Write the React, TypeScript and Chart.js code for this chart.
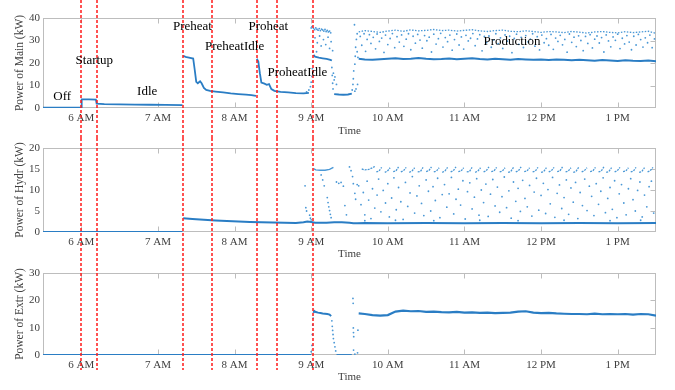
import React, { useEffect, useRef } from 'react';
import { Chart, registerables } from 'chart.js';

Chart.register(...registerables);

type Pt = [number, number];

// ---------- axes / annotations ----------
const X_MIN = 5.5;
const X_MAX = 13.5;
const TICK_HOURS = [6, 7, 8, 9, 10, 11, 12, 13];
const TICK_LABELS = ['6 AM', '7 AM', '8 AM', '9 AM', '10 AM', '11 AM', '12 PM', '1 PM'];
const MAIN_YTICKS = [0, 10, 20, 30, 40];
const HYDR_YTICKS = [0, 5, 10, 15, 20];
const EXTR_YTICKS = [0, 10, 20, 30];
const PHASE_T = [6.0, 6.2, 7.33, 7.71, 8.29, 8.55, 9.03];
const PHASE_LABELS = ['Off', 'Startup', 'Idle', 'Preheat', 'PreheatIdle', 'Proheat', 'ProheatIdle', 'Production'];
const PHASE_LABEL_T = [5.75, 6.17, 6.86, 7.45, 8.0, 8.44, 8.82, 11.62];
const PHASE_LABEL_V = [5.2, 21.0, 7.2, 36.4, 27.2, 36.1, 15.7, 29.5];

// ---------- shared production time grid ----------
const PROD_T = [9.62, 9.7, 9.8, 9.9, 10.0, 10.1, 10.2, 10.3, 10.4, 10.5, 10.6, 10.7, 10.8, 10.9, 11.0, 11.1, 11.2, 11.3, 11.4, 11.5, 11.6, 11.7, 11.8, 11.9, 12.0, 12.1, 12.2, 12.3, 12.4, 12.5, 12.6, 12.7, 12.8, 12.9, 13.0, 13.1, 13.2, 13.3, 13.4, 13.5];

// ---------- Main ----------
const MAIN_IDLE: Pt[] = [[5.5, 0.2], [5.75, 0.2], [6.0, 0.25], [6.005, 3.8], [6.1, 3.8], [6.19, 3.7], [6.2, 1.9], [6.3, 1.7], [6.5, 1.6], [6.7, 1.5], [6.9, 1.45], [7.1, 1.35], [7.32, 1.3]];
const MAIN_PREHEAT: Pt[] = [[7.33, 23.2], [7.36, 22.7], [7.42, 22.3], [7.46, 22.0], [7.48, 17.0], [7.5, 11.6], [7.52, 11.0], [7.55, 11.9], [7.57, 11.0], [7.6, 8.9], [7.63, 8.0], [7.68, 7.6], [7.75, 7.3], [7.85, 6.9], [7.95, 6.5], [8.05, 6.2], [8.15, 5.9], [8.22, 5.7], [8.28, 5.4]];
const MAIN_PROHEAT: Pt[] = [[8.29, 21.9], [8.31, 20.6], [8.33, 15.5], [8.35, 11.3], [8.39, 10.8], [8.42, 10.3], [8.45, 10.6], [8.48, 8.4], [8.52, 7.6], [8.6, 7.2], [8.7, 6.9], [8.8, 6.6], [8.9, 6.5], [8.97, 6.7]];
const MAIN_P1_LOW: Pt[] = [[9.03, 23.6], [9.05, 22.8], [9.1, 22.4], [9.15, 22.1], [9.2, 21.8], [9.25, 21.4], [9.27, 21.1]];
const MAIN_DIP: Pt[] = [[9.3, 6.2], [9.36, 6.0], [9.42, 5.9], [9.48, 6.0], [9.53, 6.4]];
const MAIN_LOW = [21.9, 21.6, 21.5, 21.7, 21.9, 22.1, 21.8, 21.9, 22.2, 21.9, 21.7, 21.8, 22.0, 21.7, 21.9, 22.1, 21.8, 21.6, 21.9, 21.7, 21.5, 21.8, 21.6, 21.4, 21.5, 21.3, 21.6, 21.4, 21.2, 21.4, 21.2, 21.0, 21.3, 21.1, 20.9, 21.2, 21.0, 20.9, 21.1, 20.8];
const MAIN_HIGH = [33.8, 34.4, 34.0, 33.6, 34.2, 34.6, 34.1, 34.7, 34.3, 34.5, 34.9, 34.4, 34.6, 34.2, 34.5, 34.8, 34.3, 34.0, 34.4, 34.6, 34.1, 33.9, 34.3, 34.0, 33.6, 34.0, 33.8, 33.5, 34.0, 33.7, 33.3, 33.8, 34.0, 33.6, 33.4, 33.9, 33.5, 33.8, 34.1, 33.2];
const MAIN_SCATTER: Pt[] = [
  [8.94, 7.2], [8.97, 8.0], [8.99, 9.5], [9.0, 11.5], [9.01, 14.0], [9.015, 17.5], [9.02, 20.5], [9.025, 25.0], [9.0, 35.6], [9.01, 36.2],
  [9.03, 35.4], [9.045, 34.8], [9.06, 35.6], [9.075, 35.0], [9.09, 34.6], [9.105, 35.3], [9.12, 34.4], [9.135, 35.1], [9.15, 34.7], [9.165, 34.2], [9.18, 34.9], [9.195, 34.0], [9.21, 34.5], [9.225, 33.8], [9.24, 34.2], [9.255, 33.4],
  [9.05, 31.2], [9.08, 29.0], [9.11, 32.0], [9.13, 27.6], [9.16, 30.4], [9.19, 28.2], [9.22, 31.5], [9.24, 26.5], [9.26, 29.5], [9.07, 25.0],
  [9.27, 18.0], [9.275, 14.5], [9.28, 11.0], [9.285, 8.5], [9.29, 15.5], [9.3, 12.5], [9.31, 13.8], [9.33, 10.5], [9.28, 25.5],
  [9.535, 8.0], [9.545, 10.5], [9.55, 13.0], [9.555, 16.5], [9.565, 37.0], [9.57, 19.5], [9.575, 23.0], [9.58, 27.0], [9.59, 30.5], [9.6, 33.0], [9.6, 25.0], [9.57, 7.5], [9.585, 8.5], [9.605, 10.5], [9.61, 22.5],
  [9.64, 31.8], [9.66, 27.9], [9.69, 33.0], [9.71, 25.2], [9.73, 30.5], [9.76, 32.6], [9.78, 28.7], [9.81, 31.4], [9.84, 26.3], [9.86, 32.9], [9.89, 29.6], [9.92, 31.1], [9.95, 24.7], [9.97, 32.4], [10.0, 28.2], [10.03, 30.9], [10.06, 33.1], [10.09, 26.8], [10.12, 31.7], [10.15, 29.3], [10.18, 32.5], [10.21, 27.4], [10.24, 30.6], [10.27, 33.0], [10.3, 25.9], [10.33, 31.9], [10.36, 28.8], [10.39, 32.7], [10.42, 30.2], [10.45, 26.6], [10.48, 32.2], [10.51, 29.9], [10.54, 31.5], [10.57, 24.9], [10.6, 32.8], [10.63, 28.4], [10.66, 30.8], [10.69, 33.2], [10.72, 27.1], [10.75, 31.3], [10.78, 29.5], [10.81, 32.4], [10.84, 25.7], [10.87, 30.4], [10.9, 32.9], [10.93, 28.0], [10.96, 31.6], [10.99, 26.2],
  [11.02, 32.3], [11.05, 29.8], [11.08, 31.0], [11.11, 33.1], [11.14, 27.7], [11.17, 30.7], [11.2, 32.6], [11.23, 25.4], [11.26, 31.8], [11.29, 29.1], [11.32, 32.0], [11.35, 27.0], [11.38, 30.3], [11.41, 33.0], [11.44, 28.6], [11.47, 31.2], [11.5, 26.5], [11.53, 32.5], [11.56, 29.7], [11.59, 31.9], [11.62, 24.6], [11.65, 30.9], [11.68, 32.8], [11.71, 28.3], [11.74, 31.4], [11.77, 26.9], [11.8, 32.2], [11.83, 29.4], [11.86, 30.6], [11.89, 33.0], [11.92, 27.5], [11.95, 31.7], [11.98, 25.8],
  [12.01, 32.4], [12.04, 29.0], [12.07, 30.8], [12.1, 27.9], [12.13, 32.7], [12.16, 26.1], [12.19, 31.1], [12.22, 29.6], [12.25, 32.3], [12.28, 28.1], [12.31, 30.5], [12.34, 24.8], [12.37, 32.9], [12.4, 29.2], [12.43, 31.5], [12.46, 27.3], [12.49, 32.1], [12.52, 30.0], [12.55, 25.5], [12.58, 31.8], [12.61, 28.7], [12.64, 32.6], [12.67, 26.7], [12.7, 30.6], [12.73, 32.0], [12.76, 28.9], [12.79, 31.3], [12.82, 24.9], [12.85, 32.5], [12.88, 29.8], [12.91, 27.2], [12.94, 31.6], [12.97, 30.1],
  [13.0, 32.8], [13.03, 26.4], [13.06, 31.0], [13.09, 28.5], [13.12, 32.2], [13.15, 29.3], [13.18, 25.9], [13.21, 31.9], [13.24, 28.0], [13.27, 32.7], [13.3, 30.4], [13.33, 27.1], [13.36, 31.2], [13.39, 29.0], [13.42, 32.4], [13.45, 26.8], [13.48, 30.7],
];

// ---------- Hydr ----------
const HYDR_OFF: Pt[] = [[5.5, 0], [7.32, 0]];
const HYDR_BASE: Pt[] = [[7.33, 3.3], [7.45, 3.1], [7.6, 2.9], [7.75, 2.75], [7.9, 2.6], [8.05, 2.5], [8.2, 2.4], [8.35, 2.35], [8.5, 2.25], [8.65, 2.2], [8.8, 2.15], [8.9, 2.3], [8.95, 2.5], [9.0, 2.4], [9.05, 2.2], [9.2, 2.2], [9.3, 2.3], [9.4, 2.3], [9.5, 2.2], [9.55, 2.1], [9.6, 2.1], [9.7, 2.15], [10.0, 2.1], [10.5, 2.15], [11.0, 2.1], [11.5, 2.15], [12.0, 2.1], [12.5, 2.15], [13.0, 2.1], [13.5, 2.15]];
const HYDR_UPPER1: Pt[] = [[9.03, 15.1], [9.06, 14.8], [9.12, 14.7], [9.18, 14.7], [9.24, 14.9], [9.29, 15.4]];
const HYDR_HOOKS: Pt[] = [
  [9.66, 15.0], [9.7, 14.8], [9.75, 14.9], [9.8, 15.3], [9.83, 15.6],
  [9.85, 14.3], [9.885, 14.5], [9.92, 15.4], [9.96, 14.2], [9.995, 14.5], [10.03, 15.3], [10.07, 14.4], [10.105, 14.5], [10.14, 15.5],
  [10.17, 14.3], [10.205, 14.6], [10.24, 15.4], [10.28, 14.2], [10.315, 14.5], [10.35, 15.3], [10.39, 14.3], [10.425, 14.4], [10.46, 15.4],
  [10.5, 14.4], [10.535, 14.6], [10.57, 15.5], [10.6, 14.3], [10.635, 14.5], [10.67, 15.3], [10.71, 14.2], [10.745, 14.5], [10.78, 15.4],
  [10.82, 14.3], [10.855, 14.6], [10.89, 15.5], [10.92, 14.4], [10.955, 14.5], [10.99, 15.3], [11.03, 14.3], [11.065, 14.4], [11.1, 15.4],
  [11.14, 14.2], [11.175, 14.5], [11.21, 15.3], [11.25, 14.3], [11.285, 14.6], [11.32, 15.5], [11.35, 14.4], [11.385, 14.5], [11.42, 15.4],
  [11.46, 14.3], [11.495, 14.5], [11.53, 15.3], [11.57, 14.2], [11.605, 14.4], [11.64, 15.4], [11.67, 14.3], [11.705, 14.6], [11.74, 15.5],
  [11.78, 14.4], [11.815, 14.5], [11.85, 15.3], [11.89, 14.3], [11.925, 14.5], [11.96, 15.4], [12.0, 14.2], [12.035, 14.4], [12.07, 15.3],
  [12.1, 14.3], [12.135, 14.6], [12.17, 15.4], [12.21, 14.4], [12.245, 14.5], [12.28, 15.5], [12.32, 14.3], [12.355, 14.5], [12.39, 15.3],
  [12.42, 14.2], [12.455, 14.4], [12.49, 15.4], [12.53, 14.3], [12.565, 14.6], [12.6, 15.3], [12.64, 14.4], [12.675, 14.5], [12.71, 15.4],
  [12.75, 14.3], [12.785, 14.5], [12.82, 15.5], [12.85, 14.2], [12.885, 14.4], [12.92, 15.3], [12.96, 14.3], [12.995, 14.6], [13.03, 15.4],
  [13.07, 14.4], [13.105, 14.5], [13.14, 15.3], [13.17, 14.3], [13.205, 14.5], [13.24, 15.4], [13.28, 14.2], [13.315, 14.4], [13.35, 15.3],
  [13.39, 14.3], [13.425, 14.6], [13.46, 15.4],
];
const HYDR_SCATTER: Pt[] = [
  [8.92, 11.0], [8.93, 5.8], [8.94, 5.0], [8.98, 4.0], [8.99, 3.3], [9.0, 2.9], [9.13, 13.6], [9.15, 12.4], [9.17, 11.0], [9.21, 8.2], [9.22, 7.0], [9.23, 6.0], [9.24, 5.1], [9.25, 4.2], [9.26, 3.4],
  [9.33, 11.9], [9.36, 11.6], [9.39, 11.8], [9.42, 10.9], [9.44, 6.3], [9.46, 4.1], [9.5, 15.5], [9.52, 14.6], [9.54, 13.2], [9.55, 11.5], [9.57, 9.2], [9.58, 7.8], [9.6, 11.3], [9.62, 11.0],
  [9.65, 6.5], [9.68, 9.4], [9.7, 4.1], [9.73, 12.1], [9.75, 7.6], [9.78, 3.2], [9.8, 10.3], [9.83, 5.7], [9.86, 8.8], [9.88, 12.6], [9.91, 4.8], [9.94, 9.9], [9.97, 6.9],
  [10.0, 11.5], [10.02, 3.6], [10.05, 8.1], [10.08, 12.9], [10.11, 5.3], [10.14, 10.6], [10.17, 7.2], [10.2, 3.0], [10.23, 11.8], [10.26, 6.1], [10.29, 9.3], [10.32, 13.2], [10.35, 4.5], [10.38, 8.6], [10.41, 11.0], [10.44, 6.8], [10.47, 3.9],
  [10.5, 12.4], [10.53, 9.7], [10.56, 5.0], [10.59, 10.8], [10.62, 7.5], [10.65, 12.8], [10.68, 3.4], [10.71, 8.9], [10.74, 11.3], [10.77, 5.9], [10.8, 9.1], [10.83, 13.0], [10.86, 4.3], [10.89, 7.8], [10.92, 10.2], [10.95, 6.4], [10.98, 12.2],
  [11.01, 3.1], [11.04, 9.6], [11.07, 11.7], [11.1, 5.5], [11.13, 8.3], [11.16, 12.7], [11.19, 4.0], [11.22, 10.0], [11.25, 7.0], [11.28, 11.4], [11.31, 3.7], [11.34, 9.0], [11.37, 12.5], [11.4, 6.2], [11.43, 10.7], [11.46, 4.7], [11.49, 8.4],
  [11.52, 13.1], [11.55, 5.8], [11.58, 9.8], [11.61, 3.3], [11.64, 11.9], [11.67, 7.3], [11.7, 10.4], [11.73, 4.9], [11.76, 12.3], [11.79, 8.0], [11.82, 6.0], [11.85, 11.1], [11.88, 3.8], [11.91, 9.5], [11.94, 12.8], [11.97, 5.2],
  [12.0, 8.7], [12.03, 11.6], [12.06, 4.4], [12.09, 10.1], [12.12, 6.7], [12.15, 13.0], [12.18, 3.5], [12.21, 9.2], [12.24, 11.2], [12.27, 5.6], [12.3, 8.2], [12.33, 12.4], [12.36, 4.2], [12.39, 10.5], [12.42, 7.1], [12.45, 11.8], [12.48, 3.2],
  [12.51, 9.4], [12.54, 6.3], [12.57, 12.6], [12.6, 5.1], [12.63, 10.9], [12.66, 8.5], [12.69, 3.9], [12.72, 11.5], [12.75, 6.6], [12.78, 9.7], [12.81, 12.9], [12.84, 4.6], [12.87, 8.0], [12.9, 10.6], [12.93, 5.4], [12.96, 12.2], [12.99, 3.4],
  [13.02, 9.1], [13.05, 11.3], [13.08, 6.9], [13.11, 4.1], [13.14, 10.3], [13.17, 12.7], [13.2, 7.7], [13.23, 5.0], [13.26, 9.9], [13.29, 11.9], [13.32, 3.6], [13.35, 8.8], [13.38, 6.0], [13.41, 10.8], [13.44, 12.1], [13.47, 4.5],
  [9.7, 2.7], [10.1, 2.8], [10.6, 2.7], [11.2, 2.8], [11.7, 2.7], [12.3, 2.8], [12.9, 2.7], [13.3, 2.8],
];

// ---------- Extr ----------
const EXTR_OFF: Pt[] = [[5.5, 0], [9.0, 0]];
const EXTR_BLOCK: Pt[] = [[9.03, 15.4], [9.04, 16.1], [9.06, 15.7], [9.09, 15.5], [9.12, 15.4], [9.15, 15.2], [9.18, 15.1], [9.21, 15.0], [9.24, 14.8], [9.26, 14.2]];
const EXTR_DIP: Pt[] = [[9.33, 0], [9.53, 0]];
const EXTR_PROD = [15.2, 15.0, 14.6, 14.4, 14.6, 15.9, 16.2, 16.0, 16.1, 15.8, 15.9, 15.7, 15.6, 15.8, 15.5, 15.6, 15.4, 15.5, 15.3, 15.4, 15.5, 15.9, 16.0, 15.5, 15.3, 15.4, 15.2, 15.1, 15.0, 15.0, 14.9, 15.1, 14.9, 15.0, 14.9, 15.0, 14.8, 15.0, 14.9, 14.4];
const EXTR_SCATTER: Pt[] = [[9.0, 1.2], [9.01, 3.5], [9.015, 7.5], [9.02, 11.0], [9.025, 13.5], [9.27, 12.5], [9.275, 10.5], [9.28, 9.0], [9.285, 7.5], [9.29, 6.0], [9.3, 4.5], [9.31, 3.0], [9.32, 1.5], [9.545, 20.7], [9.548, 18.9], [9.55, 9.9], [9.552, 8.2], [9.555, 6.7], [9.553, 1.8], [9.61, 9.1], [9.605, 0.8], [9.57, 0.3]];

// ---------- styling ----------
const FONT = "'Liberation Serif', 'Times New Roman', serif";
const LINE = '#2a7dc4';
const DOT = '#4a98d6';
const AXIS_GRAY = '#bdbdbd';
const TEXT_GRAY = '#404040';

const toXY = (pts: Pt[]) => pts.map(([x, y]) => ({ x, y }));
const zipXY = (xs: number[], ys: number[]) => xs.map((x, i) => ({ x, y: ys[i] }));

function lineDs(data: any[], width = 1.8, extra: any = {}) {
  return { data, showLine: true, borderColor: LINE, borderWidth: width, pointRadius: 0, pointHoverRadius: 0, fill: false, tension: 0, ...extra };
}
function dotDs(data: any[], r = 0.9, color = DOT) {
  return { data, showLine: false, pointRadius: r, pointHoverRadius: 0, pointBorderWidth: 0, pointBackgroundColor: color, backgroundColor: color, borderColor: color };
}

const hideDrops = { borderColor: (ctx: any) => (ctx.p1.parsed.y < ctx.p0.parsed.y - 0.5 ? 'rgba(0,0,0,0)' : undefined) };

function mainDatasets() {
  return [
    lineDs(toXY(MAIN_IDLE), 1.8),
    lineDs(toXY(MAIN_PREHEAT), 1.8),
    lineDs(toXY(MAIN_PROHEAT), 1.8),
    lineDs(toXY(MAIN_P1_LOW), 1.8),
    lineDs(toXY(MAIN_DIP), 1.8),
    lineDs(zipXY(PROD_T, MAIN_LOW), 2.0),
    lineDs(zipXY(PROD_T, MAIN_HIGH), 1.3, { borderColor: DOT, borderDash: [1.5, 1.5] }),
    dotDs(toXY(MAIN_SCATTER)),
  ];
}
function hydrDatasets() {
  return [
    lineDs(toXY(HYDR_OFF), 1.8),
    lineDs(toXY(HYDR_BASE), 2.0),
    lineDs(toXY(HYDR_UPPER1), 1.4, { borderColor: DOT }),
    lineDs(toXY(HYDR_HOOKS), 1.3, { borderColor: DOT, borderDash: [2, 1], segment: hideDrops }),
    dotDs(toXY(HYDR_SCATTER)),
  ];
}
function extrDatasets() {
  return [
    lineDs(toXY(EXTR_OFF), 1.8),
    lineDs(toXY(EXTR_BLOCK), 2.0),
    lineDs(toXY(EXTR_DIP), 1.8),
    lineDs(zipXY(PROD_T, EXTR_PROD), 2.2),
    dotDs(toXY(EXTR_SCATTER)),
  ];
}

type PanelProps = {
  top: number;
  height: number;
  padTop: number;
  axisH: number;
  titlePadB: number;
  yTicks: number[];
  yTitle: string;
  redBottom: number;
  showLabels: boolean;
  makeData: () => any[];
};

function makeDecor(p: PanelProps) {
  return {
    id: 'panelDecor',
    beforeDatasetsDraw(chart: any) {
      const { ctx, chartArea: a, scales } = chart;
      const L = Math.round(a.left) + 0.5;
      const R = Math.round(a.right) - 0.5;
      const T = Math.round(a.top) + 0.5;
      const B = Math.round(a.bottom) - 0.5;
      ctx.save();
      ctx.strokeStyle = AXIS_GRAY;
      ctx.lineWidth = 1;
      ctx.strokeRect(L, T, R - L, B - T);
      ctx.beginPath();
      for (const h of TICK_HOURS) {
        const x = Math.round(scales.x.getPixelForValue(h)) + 0.5;
        ctx.moveTo(x, T);
        ctx.lineTo(x, T + 5);
        ctx.moveTo(x, B);
        ctx.lineTo(x, B - 5);
      }
      const yt = p.yTicks;
      for (let i = 1; i < yt.length - 1; i++) {
        const y = Math.round(scales.y.getPixelForValue(yt[i])) + 0.5;
        ctx.moveTo(R, y);
        ctx.lineTo(R - 5, y);
      }
      ctx.stroke();
      ctx.restore();
    },
    afterDatasetsDraw(chart: any) {
      const { ctx, scales } = chart;
      ctx.save();
      ctx.strokeStyle = '#ff1a1a';
      ctx.lineWidth = 1.5;
      ctx.setLineDash([3, 2]);
      ctx.beginPath();
      for (const t of PHASE_T) {
        const x = Math.round(scales.x.getPixelForValue(t));
        ctx.moveTo(x, 0);
        ctx.lineTo(x, p.redBottom);
      }
      ctx.stroke();
      ctx.restore();
    },
    afterDraw(chart: any) {
      if (!p.showLabels) return;
      const { ctx, scales } = chart;
      ctx.save();
      ctx.fillStyle = '#000';
      ctx.font = `13px ${FONT}`;
      ctx.textAlign = 'center';
      ctx.textBaseline = 'middle';
      PHASE_LABELS.forEach((s, i) => {
        ctx.fillText(s, scales.x.getPixelForValue(PHASE_LABEL_T[i]), scales.y.getPixelForValue(PHASE_LABEL_V[i]));
      });
      ctx.restore();
    },
  };
}

function Panel(p: PanelProps) {
  const ref = useRef<HTMLCanvasElement>(null);
  useEffect(() => {
    if (!ref.current) return;
    const font = { family: FONT, size: 11 };
    const titleFont = { family: FONT, size: 11.5 };
    const yMax = p.yTicks[p.yTicks.length - 1];
    const chart = new Chart(ref.current, {
      type: 'scatter',
      data: { datasets: p.makeData() as any },
      options: {
        animation: false,
        responsive: false,
        devicePixelRatio: 1,
        events: [],
        layout: { padding: { left: 0, right: 19, top: p.padTop, bottom: 0 } },
        plugins: { legend: { display: false }, tooltip: { enabled: false } },
        scales: {
          x: {
            type: 'linear',
            min: X_MIN,
            max: X_MAX,
            afterBuildTicks: (s: any) => { s.ticks = TICK_HOURS.map((v) => ({ value: v })); },
            afterFit: (s: any) => { s.height = p.axisH; },
            grid: { display: false, drawTicks: false },
            border: { display: false },
            ticks: { font, color: TEXT_GRAY, padding: 4, maxRotation: 0, autoSkip: false, callback: (_v: any, i: number) => TICK_LABELS[i] },
            title: { display: true, text: 'Time', font, color: TEXT_GRAY, padding: { top: 0, bottom: p.titlePadB } },
          },
          y: {
            type: 'linear',
            min: 0,
            max: yMax,
            afterBuildTicks: (s: any) => { s.ticks = p.yTicks.map((v) => ({ value: v })); },
            afterFit: (s: any) => { s.width = 43; },
            grid: { display: false, drawTicks: false },
            border: { display: false },
            ticks: { font, color: TEXT_GRAY, padding: 3, callback: (v: any) => String(v) },
            title: { display: true, text: p.yTitle, font: titleFont, color: TEXT_GRAY, padding: { top: 13, bottom: 0 } },
          },
        },
      } as any,
      plugins: [makeDecor(p) as any],
    });
    return () => chart.destroy();
  }, []);
  return <canvas ref={ref} width={675} height={p.height} style={{ position: 'absolute', left: 0, top: p.top }} />;
}

export default function App() {
  return (
    <div style={{ position: 'fixed', left: 0, top: 0, width: 675, height: 390, background: '#fff', overflow: 'hidden' }}>
      <Panel top={0} height={138} padTop={18} axisH={30} titlePadB={0} yTicks={MAIN_YTICKS} yTitle="Power of Main (kW)" redBottom={138} showLabels={true} makeData={mainDatasets} />
      <Panel top={138} height={125} padTop={10} axisH={31} titlePadB={2.4} yTicks={HYDR_YTICKS} yTitle="Power of Hydr (kW)" redBottom={125} showLabels={false} makeData={hydrDatasets} />
      <Panel top={263} height={127} padTop={10} axisH={35} titlePadB={6.4} yTicks={EXTR_YTICKS} yTitle="Power of Extr (kW)" redBottom={107} showLabels={false} makeData={extrDatasets} />
    </div>
  );
}
